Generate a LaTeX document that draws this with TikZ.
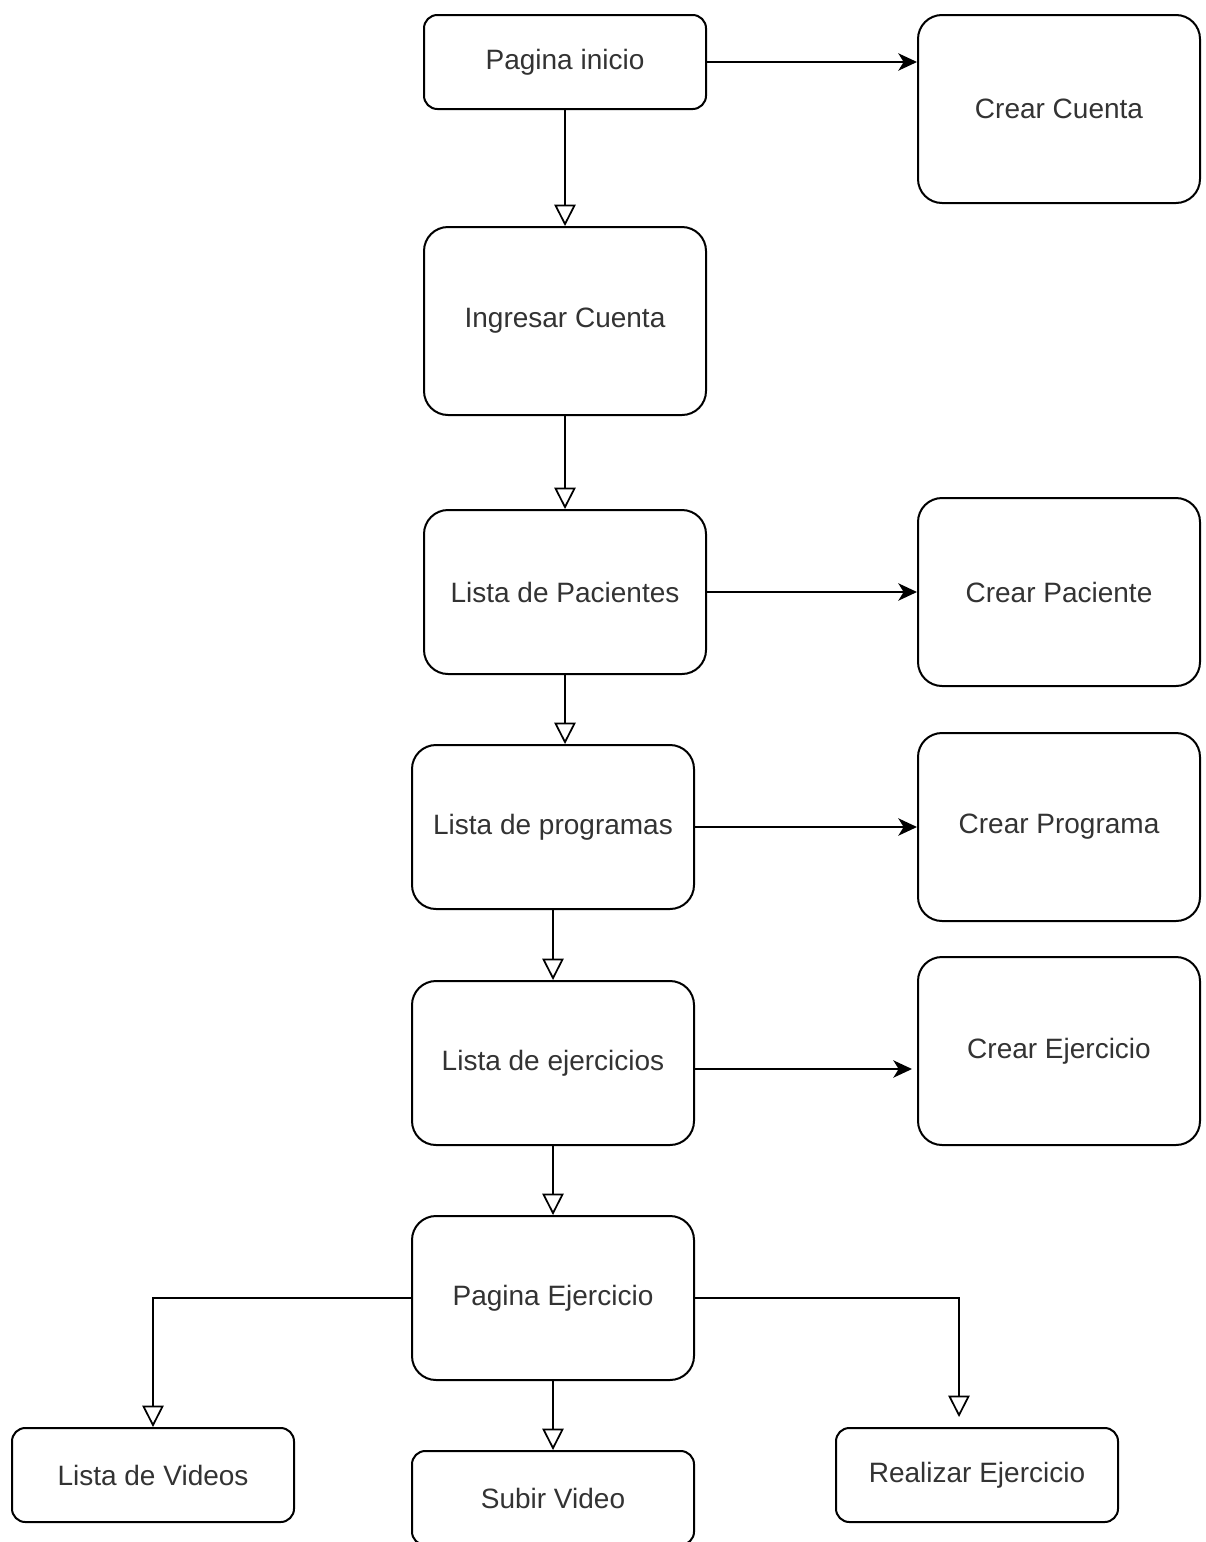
\documentclass[tikz,border=0pt]{standalone}
\usepackage{fontspec}
\setmainfont{Liberation Sans}
\usetikzlibrary{arrows.meta}
\definecolor{txt}{HTML}{333333}
\begin{document}
\begin{tikzpicture}[x=0.75pt,y=-0.75pt,
  box/.style={draw=black, line width=1.5pt, fill=white, rounded corners=18pt, minimum width=211.5pt, inner sep=0pt, font=\fontsize{21pt}{25pt}\selectfont, text=txt},
  sbox/.style={box, rounded corners=10pt},
  openarr/.style={draw=black, line width=1.5pt, -{Triangle[open, length=16pt, width=16pt, line width=1.3pt]}},
  fillarr/.style={draw=black, line width=1.5pt, -{Stealth[length=14pt, width=13pt, inset=4pt]}}
]
\useasboundingbox (0,0) rectangle (1206,1542);
\node[sbox, minimum height=70.5pt] (ini) at (565,62) {Pagina inicio};
\node[box, minimum height=141pt] (cc) at (1059,109) {Crear Cuenta};
\node[box, minimum height=141pt] (ing) at (565,321) {Ingresar Cuenta};
\node[box, minimum height=123pt] (lpac) at (565,592) {Lista de Pacientes};
\node[box, minimum height=141pt] (cpac) at (1059,592) {Crear Paciente};
\node[box, minimum height=123pt] (lprog) at (553,827) {Lista de programas};
\node[box, minimum height=141pt] (cprog) at (1059,827) {Crear Programa};
\node[box, minimum height=123pt] (lej) at (553,1063) {Lista de ejercicios};
\node[box, minimum height=141pt] (cej) at (1059,1051) {Crear Ejercicio};
\node[box, minimum height=123pt] (pej) at (553,1298) {Pagina Ejercicio};
\node[sbox, minimum height=70.5pt] (lvid) at (153,1475) {Lista de Videos};
\node[sbox, minimum height=70.5pt] (sub) at (553,1498) {Subir Video};
\node[sbox, minimum height=70.5pt] (real) at (977,1475) {Realizar Ejercicio};

\draw[fillarr] (ini.east) -- (ini.east -| cc.west);
\draw[fillarr] (lpac.east) -- (cpac.west);
\draw[fillarr] (lprog.east) -- (cprog.west);
\draw[fillarr, shorten >=3.75pt] ([yshift=-4.5pt]lej.east) -- ([yshift=-4.5pt]lej.east -| cej.west);

\draw[openarr] (ini.south) -- (ing.north);
\draw[openarr] (ing.south) -- (lpac.north);
\draw[openarr] (lpac.south) -- (lpac.south |- lprog.north);
\draw[openarr] (lprog.south) -- (lej.north);
\draw[openarr] (lej.south) -- (pej.north);
\draw[openarr] (pej.south) -- (sub.north);
\draw[openarr] (pej.west) -| (lvid.north);
\coordinate (rtop) at ([xshift=-13.5pt, yshift=7.5pt]real.north);
\draw[openarr] (pej.east) -| (rtop);
\end{tikzpicture}
\end{document}
